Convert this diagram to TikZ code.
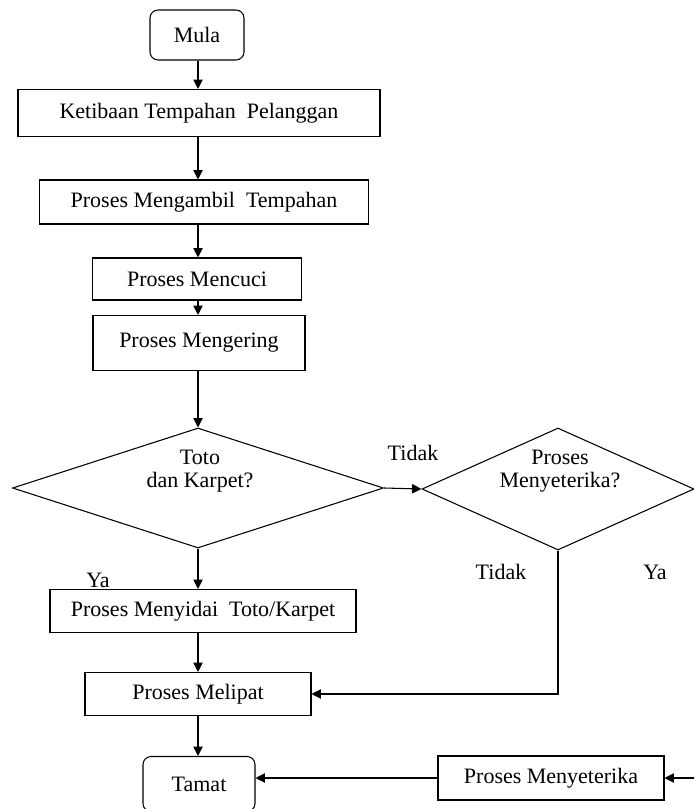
\documentclass[tikz,border=0pt]{standalone}
\usepackage{fontspec}
\setmainfont{Liberation Serif}
\usetikzlibrary{arrows.meta,shapes.geometric}

\tikzset{
  proc/.style={draw,line width=0.8pt,inner sep=0.75pt,align=center},
  term/.style={proc,rounded corners=6pt},
  decide/.style={draw,diamond,shape aspect=3,line width=0.8pt,inner sep=0pt},
  flow/.style={line width=0.8pt,-{Triangle[length=7pt,width=7pt]}},
  link/.style={line width=0.8pt}
}

\begin{document}
\begin{tikzpicture}[x=0.75pt,y=0.75pt,yscale=-1,xscale=1,font=\fontsize{16.5}{17}\selectfont]
\useasboundingbox (0,0) rectangle (694,809);
\clip (0,0) rectangle (694,809);

%Shape: Rounded Rect [id:mula]
\node [term,minimum width=70.5pt,minimum height=37.5pt] (mula) at (197,35) {Mula};
%Shape: Rectangle [id:ketibaan]
\node [proc,minimum width=271.5pt,minimum height=35.25pt] (ketibaan) at (199,113) {Ketibaan Tempahan\ \ Pelanggan};
%Shape: Rectangle [id:ambil]
\node [proc,minimum width=246.75pt,minimum height=33pt] (ambil) at (204,202) {Proses Mengambil\ \ Tempahan};
%Shape: Rectangle [id:cuci]
\node [proc,minimum width=156.75pt,minimum height=31.5pt] (cuci) at (197,279) {Proses Mencuci};
%Shape: Rectangle [id:kering]
\node [proc,minimum width=159pt,minimum height=41.25pt] (kering) at (199,343) {Proses Mengering};
%Shape: Diamond [id:toto]
\node [decide,minimum width=278.25pt,minimum height=90pt] (toto) at (198,488) {};
%Shape: Diamond [id:soal]
\node [decide,minimum width=204pt,minimum height=91.5pt] (soal) at (558,489) {};
%Shape: Rectangle [id:sidai]
\node [proc,minimum width=229.5pt,minimum height=32.25pt] (sidai) at (203,611) {Proses Menyidai\ \ Toto/Karpet};
%Shape: Rectangle [id:lipat]
\node [proc,minimum width=169.5pt,minimum height=32.25pt] (lipat) at (198,694) {Proses Melipat};
%Shape: Rounded Rect [id:tamat]
\node [term,minimum width=84pt,minimum height=41.25pt] (tamat) at (199,784) {Tamat};
%Shape: Rectangle [id:seterika]
\node [proc,minimum width=169.5pt,minimum height=33pt] (seterika) at (551,778) {Proses Menyeterika};

%Straight Lines
\draw [flow] (mula.south -| 198,0) -- (ketibaan.north -| 198,0);
\draw [flow] (ketibaan.south -| 198,0) -- (ambil.north -| 198,0);
\draw [flow] (ambil.south -| 198,0) -- (cuci.north -| 198,0);
\draw [flow] (cuci.south -| 198,0) -- (kering.north -| 198,0);
\draw [flow] (kering.south -| 198,0) -- (toto.north);
\draw [flow] (toto.east) -- (soal.west);
\draw [flow] (toto.south) -- (sidai.north -| toto.south);
\draw [flow] (sidai.south -| 198,0) -- (lipat.north -| 198,0);
\draw [flow] (lipat.south -| 198,0) -- (tamat.north -| 198,0);
\draw [flow] (soal.south) |- (lipat.east);
\draw [flow] (soal.east) -- ++(12,0) |- (seterika.east);
\draw [flow] (seterika.west) -- (seterika.west -| tamat.east);

% Text Node
\node [align=center] (tototext) at (200,471) {Toto\\dan Karpet?};
% Text Node
\node [align=center] (soaltext) at (560,471) {Proses\\Menyeterika?};
% Text Node
\node (tidaka) at (413,453) {Tidak};
% Text Node
\node (yaa) at (98,580) {Ya};
% Text Node
\node (tidakb) at (501,572) {Tidak};
% Text Node
\node (yab) at (655,572) {Ya};

\end{tikzpicture}
\end{document}
